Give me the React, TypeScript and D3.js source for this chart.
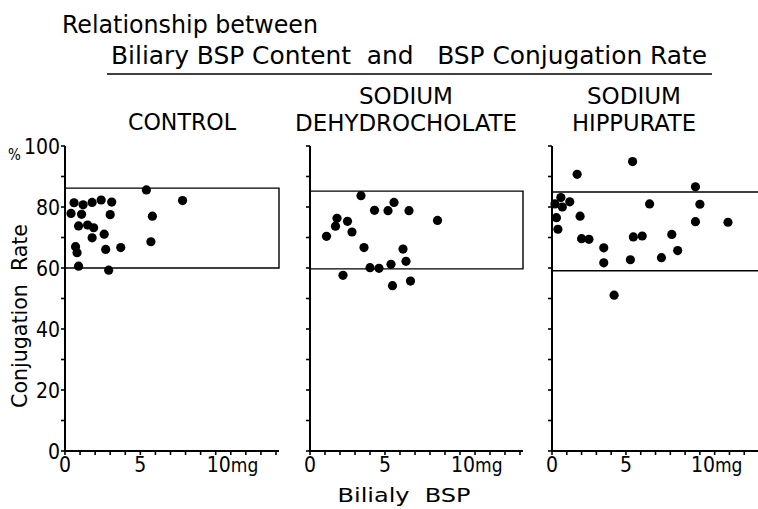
import React from "react";
import * as d3 from "d3";

// Biliary BSP content (mg) vs. BSP conjugation rate (%) for each group
const controlPoints: [number, number][] = [
  [0.6, 81.4], [0.4, 77.9], [1.2, 80.7], [1.1, 77.6], [1.8, 81.5], [2.4, 82.3],
  [3.1, 81.6], [3.0, 77.5], [0.9, 73.8], [1.5, 74.1], [1.9, 73.2], [1.8, 69.9],
  [2.6, 71.1], [0.7, 67.0], [0.8, 65.0], [2.7, 66.1], [3.7, 66.7], [0.9, 60.6],
  [2.9, 59.3], [5.4, 85.6], [5.8, 77.0], [5.7, 68.6], [7.8, 82.1],
];

const dehydrocholatePoints: [number, number][] = [
  [3.4, 83.7], [5.6, 81.5], [4.3, 78.9], [5.2, 78.8], [6.6, 78.8], [8.5, 75.6],
  [1.8, 76.3], [1.7, 73.7], [2.5, 75.3], [2.8, 71.8], [1.1, 70.4], [3.6, 66.7],
  [6.2, 66.2], [6.4, 62.2], [5.4, 61.2], [4.0, 60.1], [4.6, 59.9], [2.2, 57.6],
  [5.5, 54.2], [6.7, 55.7],
];

const hippuratePoints: [number, number][] = [
  [5.45, 94.9], [1.7, 90.7], [9.7, 86.6], [0.2, 81.0], [0.6, 83.1], [0.7, 80.0],
  [1.2, 81.7], [6.6, 81.0], [10.0, 80.9], [0.3, 76.5], [1.9, 77.0], [0.4, 72.7],
  [9.7, 75.2], [11.9, 75.0], [2.0, 69.6], [2.5, 69.4], [5.5, 70.2], [6.1, 70.5],
  [8.1, 71.0], [3.5, 66.6], [3.5, 61.7], [5.3, 62.7], [7.4, 63.4], [8.5, 65.7],
  [4.2, 51.1],
];

// Normal range band (low, high) drawn in each panel
const controlBand: [number, number] = [60, 86.2];
const dehydrocholateBand: [number, number] = [59.7, 85.2];
const hippurateBand: [number, number] = [59.1, 84.9];

const groupTitles: string[][] = [
  ["CONTROL"],
  ["SODIUM", "DEHYDROCHOLATE"],
  ["SODIUM", "HIPPURATE"],
];

const yTickLabels = [0, 20, 40, 60, 80, 100];
const xTickLabels = [0, 5, 10];
const xDomainMax = 14.2;

const FONT = "'Liberation Sans Narrow', 'DejaVu Sans Condensed', 'Liberation Sans', Arial, sans-serif";

const W = 758;
const H = 509;

const panelLefts = [65, 310, 552];
const panelRights = [279, 523, 762];
const titleCenters = [182, 406, 634];
const plotTop = 146;
const plotBottom = 451;

const groups = [
  { points: controlPoints, band: controlBand, titles: groupTitles[0] },
  { points: dehydrocholatePoints, band: dehydrocholateBand, titles: groupTitles[1] },
  { points: hippuratePoints, band: hippurateBand, titles: groupTitles[2] },
];

export default function App() {
  const y = d3.scaleLinear().domain([0, 100]).range([plotBottom, plotTop]);
  const yMinor = d3.range(0, 101, 10);
  const xMinor = d3.range(0, 15, 1);

  return (
    <svg
      width={W}
      height={H}
      viewBox={`0 0 ${W} ${H}`}
      style={{ position: "absolute", left: 0, top: 0, background: "#fff" }}
      fontFamily={FONT}
    >
      <rect x={0} y={0} width={W} height={H} fill="#fff" />

      {/* Main title */}
      <text x={62} y={33} fontSize={25} textLength={256} lengthAdjust="spacingAndGlyphs">
        Relationship between
      </text>
      <text x={111} y={64} fontSize={25} textLength={596} lengthAdjust="spacingAndGlyphs" xmlSpace="preserve">
        {"Biliary BSP Content  and   BSP Conjugation Rate"}
      </text>
      <line x1={107} x2={712} y1={74} y2={74} stroke="#000" strokeWidth={1.6} />

      {/* Y axis title */}
      <text x={8} y={160} fontSize={15}>%</text>
      <text
        transform={`translate(27, 316) rotate(-90)`}
        textAnchor="middle"
        fontSize={21}
        textLength={184}
        lengthAdjust="spacingAndGlyphs"
        xmlSpace="preserve"
      >
        {"Conjugation  Rate"}
      </text>

      {/* X axis title */}
      <text x={404} y={502} fontSize={20} textAnchor="middle" textLength={133} lengthAdjust="spacingAndGlyphs" xmlSpace="preserve">
        {"Bilialy  BSP"}
      </text>

      {groups.map((g, i) => {
        const x = d3.scaleLinear().domain([0, xDomainMax]).range([panelLefts[i], panelRights[i]]);
        return (
          <g key={i}>
            {/* Group title */}
            {g.titles.length === 1 ? (
              <text x={titleCenters[i]} y={130} fontSize={23} textAnchor="middle" textLength={108} lengthAdjust="spacingAndGlyphs">
                {g.titles[0]}
              </text>
            ) : (
              <>
                <text x={titleCenters[i]} y={104} fontSize={23} textAnchor="middle" textLength={94} lengthAdjust="spacingAndGlyphs">
                  {g.titles[0]}
                </text>
                <text
                  x={titleCenters[i]}
                  y={131}
                  fontSize={23}
                  textAnchor="middle"
                  textLength={g.titles[1].length > 10 ? 222 : 124}
                  lengthAdjust="spacingAndGlyphs"
                >
                  {g.titles[1]}
                </text>
              </>
            )}

            {/* Normal range band */}
            <path
              d={`M${x(0)},${y(g.band[1])} H${x(xDomainMax)} V${y(g.band[0])} H${x(0)}`}
              fill="none"
              stroke="#000"
              strokeWidth={1.4}
            />

            {/* Axes */}
            <line x1={x(0)} x2={x(0)} y1={y(0)} y2={y(100)} stroke="#000" strokeWidth={2} />
            <line x1={x(0)} x2={x(xDomainMax)} y1={y(0)} y2={y(0)} stroke="#000" strokeWidth={2} />

            {yMinor.map((v) => (
              <line key={`yt${v}`} x1={x(0) - 4} x2={x(0)} y1={y(v)} y2={y(v)} stroke="#000" strokeWidth={1.6} />
            ))}
            {xMinor.map((v) => (
              <line key={`xt${v}`} x1={x(v)} x2={x(v)} y1={y(0)} y2={y(0) + 4} stroke="#000" strokeWidth={1.6} />
            ))}

            {i === 0 &&
              yTickLabels.map((v) => (
                <text key={`yl${v}`} x={x(0) - 5} y={y(v) + 7.5} fontSize={21} textAnchor="end">
                  {v}
                </text>
              ))}

            {xTickLabels.map((v) =>
              v === 10 ? (
                <text key={`xl${v}`} x={x(v) - 9} y={472} fontSize={21}>
                  10<tspan fontSize={19}>mg</tspan>
                </text>
              ) : (
                <text key={`xl${v}`} x={x(v)} y={472} fontSize={21} textAnchor="middle">
                  {v}
                </text>
              )
            )}

            {/* Data points */}
            {g.points.map((p, k) => (
              <circle key={k} cx={x(p[0])} cy={y(p[1])} r={4.6} fill="#000" />
            ))}
          </g>
        );
      })}
    </svg>
  );
}
